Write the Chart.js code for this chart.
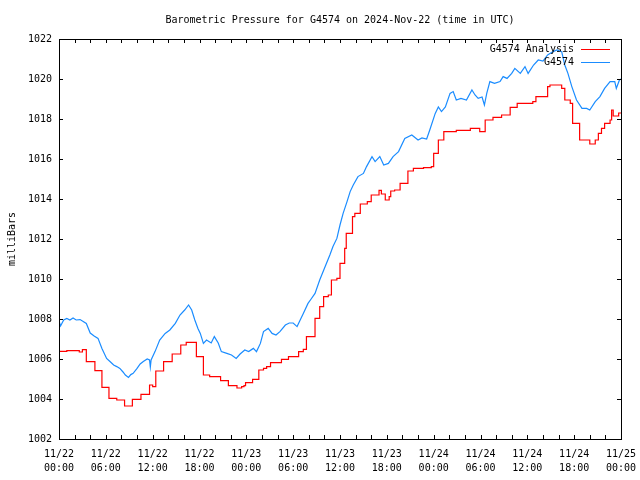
<html>
<head>
<meta charset="utf-8">
<title>Barometric Pressure G4574</title>
<script src="https://cdn.jsdelivr.net/npm/chart.js@4.4.1/dist/chart.umd.min.js"></script>
<style>
body { margin: 0; background: #fff; }
canvas { display: block; }
</style>
</head>
<body>
<canvas id="pressureChart" width="640" height="480"></canvas>
<script>
// hours since 11/22 00:00 UTC
const titleText = 'Barometric Pressure for G4574 on 2024-Nov-22 (time in UTC)';
const seriesNames = ['G4574 Analysis', 'G4574'];
const seriesColors = ['#ff0000', '#1a8cff'];

const xTickDates = ['11/22', '11/22', '11/22', '11/22', '11/23', '11/23', '11/23', '11/23', '11/24', '11/24', '11/24', '11/24', '11/25'];
const xTickTimes = ['00:00', '06:00', '12:00', '18:00', '00:00', '06:00', '12:00', '18:00', '00:00', '06:00', '12:00', '18:00', '00:00'];

// analysis (stepped), change points
const analysisHours = [
  0, 1.0, 2.6, 3.0, 3.5, 4.6, 5.5, 6.4, 7.4, 8.4,
  9.4, 10.5, 11.6, 12.0, 12.4, 13.4, 14.5, 15.6, 16.3, 17.6,
  18.5, 19.3, 20.7, 21.7, 22.8, 23.4, 23.7, 23.9, 24.8, 25.6,
  26.2, 26.6, 27.1, 28.5, 29.4, 30.7, 31.3, 31.7, 32.8, 33.4,
  33.9, 34.5, 34.9, 35.6, 36.0, 36.6, 36.8, 37.6, 37.9, 38.6,
  39.5, 40.0, 41.0, 41.3, 41.8, 42.3, 42.5, 43.0, 43.7, 44.7,
  45.4, 46.7, 47.7, 48.0, 48.6, 49.3, 50.9, 52.7, 53.9, 54.6,
  55.6, 56.7, 57.8, 58.7, 60.7, 61.1, 62.6, 62.9, 64.4, 64.8,
  65.5, 65.8, 66.7, 68.0, 68.7, 69.1, 69.5, 69.9, 70.6, 70.8,
  71.0, 71.7, 72.0
];
const analysisValues = [
  1006.38, 1006.42, 1006.35, 1006.47, 1005.87, 1005.42, 1004.58, 1004.03, 1003.95, 1003.65,
  1003.98, 1004.23, 1004.70, 1004.62, 1005.40, 1005.87, 1006.25, 1006.70, 1006.83, 1006.12,
  1005.20, 1005.12, 1004.92, 1004.67, 1004.55, 1004.62, 1004.67, 1004.82, 1004.98, 1005.45,
  1005.53, 1005.62, 1005.82, 1005.98, 1006.12, 1006.37, 1006.48, 1007.12, 1008.03, 1008.62,
  1009.12, 1009.20, 1009.95, 1010.03, 1010.78, 1011.53, 1012.28, 1013.12, 1013.28, 1013.75,
  1013.87, 1014.20, 1014.43, 1014.25, 1013.95, 1014.12, 1014.40, 1014.45, 1014.78, 1015.40,
  1015.53, 1015.57, 1015.62, 1016.28, 1016.95, 1017.37, 1017.43, 1017.53, 1017.37, 1017.95,
  1018.08, 1018.20, 1018.58, 1018.78, 1018.87, 1019.12, 1019.62, 1019.70, 1019.53, 1018.95,
  1018.78, 1017.78, 1016.95, 1016.75, 1016.95, 1017.28, 1017.53, 1017.78, 1017.95, 1018.45,
  1018.15, 1018.30, 1018.30
];

// station observations
const stationHours = [
  0, 0.2, 0.6, 1.0, 1.4, 1.8, 2.2, 2.7, 3.1, 3.5,
  4.0, 4.5, 5.0, 5.5, 6.1, 6.6, 7.0, 7.4, 7.8, 8.2,
  8.5, 8.9, 9.2, 9.5, 10.0, 10.4, 10.8, 11.3, 11.6, 11.7,
  11.8, 12.3, 12.9, 13.6, 14.2, 14.9, 15.5, 16.1, 16.6, 17.0,
  17.4, 17.8, 18.1, 18.5, 18.9, 19.5, 19.9, 20.4, 20.8, 21.5,
  22.1, 22.7, 23.2, 23.8, 24.3, 24.9, 25.3, 25.8, 26.2, 26.8,
  27.3, 27.8, 28.3, 29.0, 29.5, 30.0, 30.5, 30.9, 31.3, 31.9,
  32.3, 32.8, 33.4, 34.1, 34.7, 35.1, 35.6, 36.0, 36.4, 36.9,
  37.3, 37.7, 38.3, 39.0, 39.4, 40.1, 40.5, 41.1, 41.6, 42.2,
  42.8, 43.5, 44.3, 45.2, 46.0, 46.5, 47.1, 47.5, 48.2, 48.6,
  49.0, 49.5, 50.1, 50.5, 50.9, 51.5, 52.2, 52.9, 53.3, 53.7,
  54.2, 54.5, 54.8, 55.2, 55.8, 56.5, 56.9, 57.4, 58.0, 58.4,
  59.1, 59.7, 60.1, 60.8, 61.4, 62.0, 62.6, 63.3, 63.8, 64.4,
  64.8, 65.2, 65.7, 66.3, 67.0, 67.6, 68.0, 68.7, 69.3, 69.9,
  70.6, 71.2, 71.4, 71.8, 72.0
];
const stationValues = [
  1007.90, 1007.65, 1007.95, 1008.03, 1007.95, 1008.05, 1007.95, 1007.97, 1007.88, 1007.78,
  1007.30, 1007.15, 1007.03, 1006.53, 1006.03, 1005.85, 1005.70, 1005.62, 1005.53, 1005.35,
  1005.20, 1005.08, 1005.22, 1005.28, 1005.53, 1005.75, 1005.87, 1006.00, 1005.95, 1005.60,
  1005.95, 1006.37, 1006.95, 1007.28, 1007.45, 1007.78, 1008.20, 1008.45, 1008.70, 1008.45,
  1007.95, 1007.53, 1007.28, 1006.78, 1006.95, 1006.80, 1007.12, 1006.80, 1006.37, 1006.28,
  1006.20, 1006.03, 1006.25, 1006.45, 1006.37, 1006.53, 1006.37, 1006.78, 1007.37, 1007.53,
  1007.28, 1007.20, 1007.37, 1007.70, 1007.80, 1007.80, 1007.62, 1007.95, 1008.28, 1008.78,
  1009.00, 1009.28, 1009.95, 1010.62, 1011.20, 1011.62, 1012.03, 1012.70, 1013.28, 1013.87,
  1014.37, 1014.70, 1015.12, 1015.28, 1015.62, 1016.12, 1015.87, 1016.12, 1015.70, 1015.78,
  1016.12, 1016.37, 1017.03, 1017.20, 1016.95, 1017.05, 1017.00, 1017.45, 1018.28, 1018.60,
  1018.37, 1018.60, 1019.28, 1019.37, 1018.95, 1019.03, 1018.95, 1019.45, 1019.20, 1019.03,
  1019.10, 1018.70, 1019.28, 1019.87, 1019.78, 1019.87, 1020.12, 1020.03, 1020.28, 1020.53,
  1020.28, 1020.62, 1020.28, 1020.70, 1020.95, 1020.90, 1021.20, 1021.37, 1021.45, 1021.37,
  1020.70, 1020.28, 1019.62, 1018.95, 1018.53, 1018.53, 1018.45, 1018.87, 1019.12, 1019.53,
  1019.87, 1019.87, 1019.53, 1019.95, 1020.00
];

const monoFont = "'DejaVu Sans Mono', 'Liberation Mono', monospace";

function toPoints(xs, ys) {
  return xs.map((x, i) => ({ x: x, y: ys[i] }));
}

// box, inward ticks, title and legend like the original plot
const framePlugin = {
  id: 'frame',
  afterDatasetsDraw(chart) {
    const ctx = chart.ctx;
    const area = chart.chartArea;
    const xs = chart.scales.x;
    const ys = chart.scales.y;
    ctx.save();
    ctx.strokeStyle = '#000';
    ctx.lineWidth = 1;
    ctx.beginPath();
    xs.ticks.forEach(t => {
      const px = Math.round(xs.getPixelForValue(t.value)) + 0.5;
      ctx.moveTo(px, area.bottom);
      ctx.lineTo(px, area.bottom - 4);
      ctx.moveTo(px, area.top);
      ctx.lineTo(px, area.top + 4);
    });
    ys.ticks.forEach(t => {
      const py = Math.round(ys.getPixelForValue(t.value)) + 0.5;
      ctx.moveTo(area.left, py);
      ctx.lineTo(area.left + 4, py);
      ctx.moveTo(area.right, py);
      ctx.lineTo(area.right - 4, py);
    });
    ctx.stroke();
    ctx.strokeRect(Math.round(area.left) + 0.5, Math.round(area.top) + 0.5,
      Math.round(area.right - area.left), Math.round(area.bottom - area.top));

    ctx.fillStyle = '#000';
    ctx.font = '10px ' + monoFont;
    ctx.textBaseline = 'middle';
    ctx.textAlign = 'center';
    ctx.fillText(titleText, (area.left + area.right) / 2, 20);

    ctx.textAlign = 'right';
    chart.data.datasets.forEach((ds, i) => {
      const y = area.top + 10 + i * 13;
      ctx.fillStyle = '#000';
      ctx.fillText(ds.label, area.right - 47, y);
      ctx.strokeStyle = ds.borderColor;
      ctx.beginPath();
      ctx.moveTo(area.right - 40, Math.round(y) + 0.5);
      ctx.lineTo(area.right - 11, Math.round(y) + 0.5);
      ctx.stroke();
    });
    ctx.restore();
  }
};

const ctx = document.getElementById('pressureChart').getContext('2d');
const pressureChart = new Chart(ctx, {
  type: 'line',
  data: {
    datasets: [
      {
        label: seriesNames[0],
        data: toPoints(analysisHours, analysisValues),
        borderColor: seriesColors[0],
        borderWidth: 1.2,
        pointRadius: 0,
        stepped: 'before',
        fill: false
      },
      {
        label: seriesNames[1],
        data: toPoints(stationHours, stationValues),
        borderColor: seriesColors[1],
        borderWidth: 1.2,
        pointRadius: 0,
        tension: 0,
        fill: false
      }
    ]
  },
  plugins: [framePlugin],
  options: {
    responsive: false,
    animation: false,
    layout: { padding: { top: 39, right: 19, left: 0, bottom: 0 } },
    plugins: {
      legend: { display: false },
      title: { display: false },
      tooltip: { enabled: false }
    },
    scales: {
      x: {
        type: 'linear',
        min: 0,
        max: 72,
        grid: { display: false, drawTicks: false },
        border: { display: false },
        afterFit: s => {
          s.height = 41;
          s.paddingLeft = 0;
          s.paddingRight = 0;
        },
        ticks: {
          stepSize: 2,
          autoSkip: false,
          maxRotation: 0,
          minRotation: 0,
          padding: 8,
          color: '#000',
          font: { family: monoFont, size: 10, lineHeight: 1.4 },
          callback: v => {
            if (v % 6 !== 0) return '';
            const i = v / 6;
            return [xTickDates[i], xTickTimes[i]];
          }
        }
      },
      y: {
        min: 1002,
        max: 1022,
        grid: { display: false, drawTicks: false },
        border: { display: false },
        afterFit: s => { s.width = 59; },
        title: {
          display: true,
          text: 'milliBars',
          color: '#000',
          padding: { top: 6, bottom: 0 },
          font: { family: monoFont, size: 10 }
        },
        ticks: {
          stepSize: 2,
          padding: 7,
          color: '#000',
          font: { family: monoFont, size: 10 },
          callback: v => String(v)
        }
      }
    }
  }
});
</script>
</body>
</html>
